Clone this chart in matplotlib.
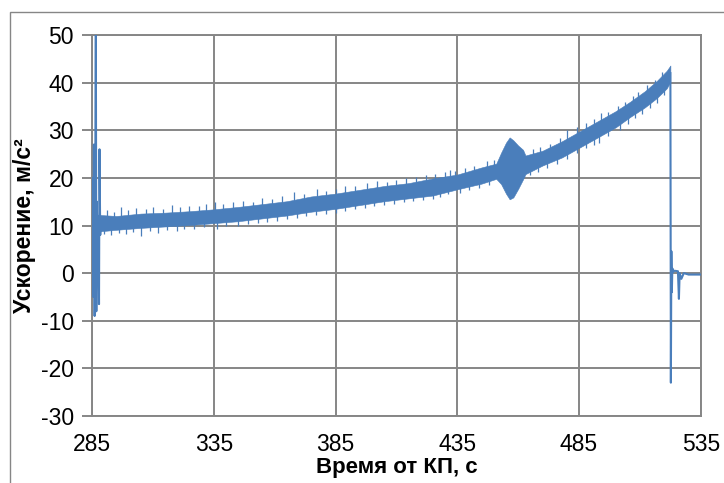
#!/usr/bin/env python

# Acceleration vs time since lift-off (noisy telemetry band)

# Some configuration
DPI = 100
BLUE = '#4a7ebb'
GRAY = '#868686'

import matplotlib.pyplot as plt
from matplotlib.patches import Rectangle

plt.rcParams['font.family'] = ['Liberation Sans', 'DejaVu Sans']
plt.rcParams['axes.unicode_minus'] = False

# Dense part of the noise band: time [s], lower and upper [m/s2]
tBand = [288.5, 295, 305, 315, 325, 335, 345, 355, 365, 375, 385, 395,
         405, 415, 425, 435, 445, 451, 453, 455, 456.5, 458, 460, 462,
         463, 470, 478, 485, 492, 500, 506, 512, 517, 521, 522.5]
loBand = [8.8, 9.1, 9.5, 9.8, 10.1, 10.5, 10.9, 11.5, 12.1, 12.9, 13.5, 14.3,
          15.1, 15.7, 16.3, 17.6, 18.8, 19.8, 18.7, 16.7, 15.5, 15.9, 17.7, 19.7,
          20.8, 22.6, 24.3, 26.3, 28.3, 30.6, 32.8, 34.8, 36.8, 38.8, 40.2]
hiBand = [12.2, 12.0, 12.5, 12.7, 13.0, 13.4, 13.9, 14.5, 15.1, 16.1, 16.7, 17.5,
          18.3, 18.9, 19.9, 20.7, 22.2, 23.0, 25.3, 27.4, 28.5, 27.9, 26.8, 25.9,
          24.7, 25.7, 27.7, 29.7, 31.7, 34.0, 36.0, 38.2, 40.4, 42.5, 43.6]

# Spikes sticking out of the band
tSpikeUp = [291, 294, 297, 300, 303, 307, 310, 314, 318, 321, 325, 329, 332,
            335.5, 339, 343, 347, 351, 355, 359, 363, 368, 372, 377.5, 381,
            385, 389, 393, 398, 402, 406, 410, 414, 418, 422, 426, 430, 432,
            434, 438, 442, 447, 450, 466, 469, 473, 477, 480, 484, 488, 491,
            494, 497, 501, 504, 507, 509, 513, 516, 519]
vSpikeUp = [13.3, 12.9, 13.9, 13.2, 13.6, 13.4, 13.9, 13.5, 14.4, 13.8, 14.2,
            14.0, 14.6, 15.0, 14.5, 14.9, 15.2, 15.0, 15.8, 15.6, 16.1, 17.0,
            16.6, 17.6, 17.2, 17.6, 18.2, 18.3, 18.9, 19.3, 19.2, 19.6, 19.9,
            20.1, 20.6, 20.9, 21.2, 21.6, 21.5, 22.0, 22.6, 23.5, 23.8, 26.0,
            26.5, 27.1, 28.3, 30.0, 30.6, 31.5, 32.4, 33.6, 33.9, 35.2, 36.0,
            37.2, 38.0, 39.4, 40.6, 42.2]
tSpikeDn = [290, 293, 296, 299, 302, 305, 309, 312, 316, 320, 323, 327, 331,
            336.5, 340, 345, 349, 353, 357, 361, 365, 369, 373, 377, 381, 385,
            389, 393, 397, 401, 405, 409, 413, 417, 421, 425, 428, 431, 436,
            440, 444, 448, 465, 468, 472, 476, 480, 484, 488, 491, 493, 497,
            502, 505, 508, 511, 514, 517, 520]
vSpikeDn = [8.2, 8.0, 8.5, 8.3, 8.7, 7.9, 8.8, 8.5, 9.0, 8.9, 9.3, 9.2, 9.6,
            9.3, 9.8, 9.9, 10.4, 10.5, 10.8, 11.0, 11.3, 11.5, 12.0, 12.2, 12.5,
            12.7, 13.0, 13.4, 13.6, 14.1, 14.4, 14.6, 14.9, 15.1, 15.3, 15.6,
            16.0, 16.6, 16.8, 17.5, 17.9, 18.6, 20.6, 21.3, 22.0, 23.0, 24.0,
            25.2, 26.3, 27.0, 27.3, 28.7, 30.0, 31.4, 32.5, 33.5, 34.6, 35.8,
            37.5]

# Transient at engine start
tStart = [285.2, 285.5, 285.8, 286.1, 286.4, 286.6, 286.8, 287.0, 287.3,
          287.6, 287.9, 288.1, 288.4, 288.7]
vStart = [20, -5, 27, -9, 25, 52, -8, 15, 5, 12, -6.5, 26, 8, 11]

# Cut-off transient and tail
tEnd = [522.5, 522.7, 522.9, 523.1, 523.3, 523.6, 524.2, 525.6, 526.0,
        526.3, 527.0, 528.0, 530.0, 535.0]
vEnd = [42.0, -23.0, 4.6, -4.0, 1.0, 0.3, 0.5, 0.4, -5.4, 0.0, -1.2, 0.0,
        -0.3, -0.3]

xTicks = [285, 335, 385, 435, 485, 535]
yTicks = [-30, -20, -10, 0, 10, 20, 30, 40, 50]


# Open figure
fig = plt.figure(figsize=(7.24, 4.83), dpi=DPI)
ax = fig.add_axes([0.127, 0.1387, 0.841, 0.7888])

# Outer chart border (only left and top visible)
fig.patches.append(Rectangle((10/724, -0.1), 1.2, 1.1 - 12/483,
                             transform=fig.transFigure, fill=False,
                             edgecolor=GRAY, linewidth=1.0))

# Plot band and spikes
ax.fill_between(tBand, loBand, hiBand, color=BLUE, linewidth=0.4,
                edgecolor=BLUE, zorder=3)
ax.vlines(tSpikeUp, [v - 2.5 for v in vSpikeUp], vSpikeUp, color=BLUE,
          linewidth=0.9, zorder=3)
ax.vlines(tSpikeDn, vSpikeDn, [v + 2.5 for v in vSpikeDn], color=BLUE,
          linewidth=0.9, zorder=3)
ax.plot(tStart, vStart, color=BLUE, linewidth=1.5, zorder=3)
ax.plot(tEnd, vEnd, color=BLUE, linewidth=1.5, zorder=3)

# Arrange plot
ax.set_xlim(285, 535)
ax.set_ylim(-30, 50)
ax.set_xticks(xTicks)
ax.set_yticks(yTicks)
ax.grid(color=GRAY, linewidth=1.4)
ax.set_axisbelow(True)
for s in ax.spines.values():
    s.set_color(GRAY)
    s.set_linewidth(1.4)
ax.tick_params(axis='x', length=0, pad=12, labelsize=16.5)
ax.tick_params(axis='y', length=7, width=1.4, color=GRAY, pad=6, labelsize=16.5)
ax.set_xlabel('Время от КП, с', fontsize=16, fontweight='bold')
ax.set_ylabel('Ускорение, м/с²', fontsize=16.5, fontweight='bold')
ax.xaxis.set_label_coords(0.5, -0.107)
ax.yaxis.set_label_coords(-0.092, 0.5)

plt.savefig('out.png', dpi=DPI)
